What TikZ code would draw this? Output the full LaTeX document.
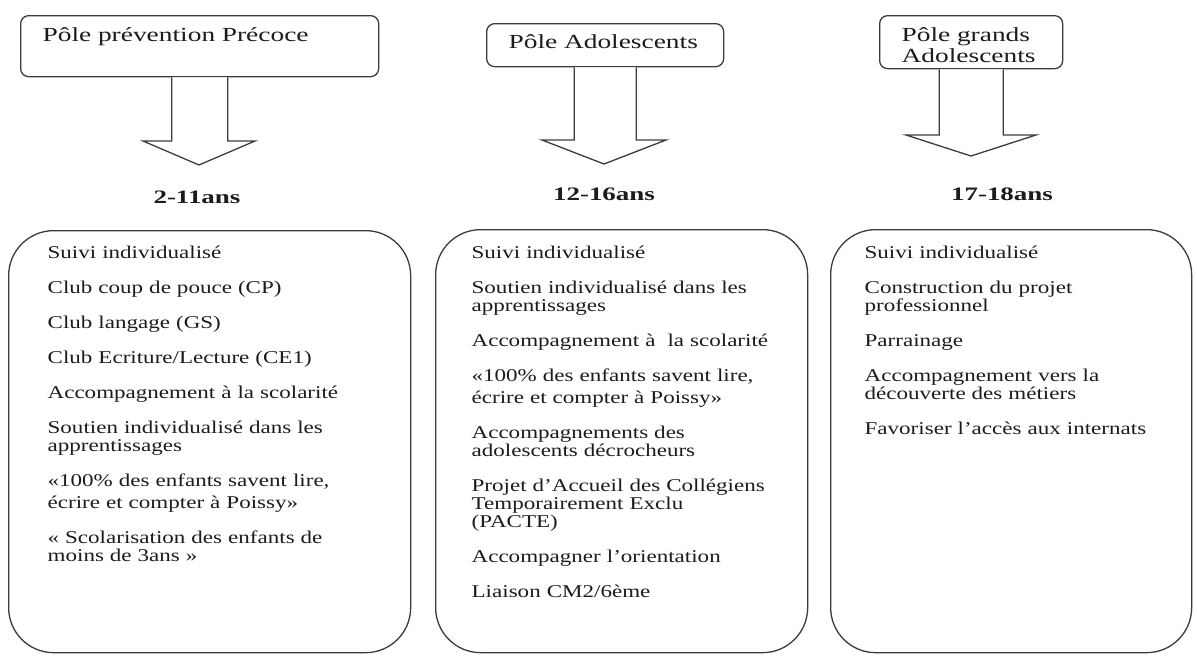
\documentclass[tikz,border=0pt]{standalone}
\usepackage{fontspec}
\setmainfont{Liberation Serif}
\newfontfamily\polefont[FakeStretch=1.37]{Liberation Serif}
\newfontfamily\itemfont[FakeStretch=1.28]{Liberation Serif}
\newfontfamily\agefont[FakeStretch=1.42]{Liberation Serif}
\usetikzlibrary{calc}
\usetikzlibrary{positioning}
\definecolor{trait}{RGB}{60,60,60}
\definecolor{encre}{RGB}{28,28,28}

\begin{document}
\begin{tikzpicture}
[x=1pt,y=-1pt,line width=1.3pt,color=trait,text=encre,
pole/.style={draw,rounded corners=8pt,anchor=north west,inner xsep=22pt,inner ysep=0pt,align=left,font=\polefont\fontsize{20}{21}\selectfont},
age/.style={anchor=base,inner sep=0pt,font=\agefont\bfseries\fontsize{19}{20}\selectfont},
panel/.style={draw,rounded corners=45pt,anchor=north west,inner sep=0pt},
liste/.style={anchor=base west,inner sep=0pt,text width=340pt,align=left,font=\itemfont\fontsize{18}{18}\selectfont},
fatarrow/.style={line join=miter,fill=white}]

\useasboundingbox[fill=white] (0,0) rectangle (1197,659);

% les trois poles
\node[pole,text width=314pt,text height=26pt,text depth=35pt] (p1) at (20,15) {Pôle prévention Précoce};
\node[pole,text width=193pt,text height=25pt,text depth=18pt] (p2) at (486,23) {\mbox{Pôle Adolescents}};
\node[pole,text width=139pt,text height=26pt,text depth=27pt] (p3) at (879,15) {\mbox{Pôle grands}\\\mbox{Adolescents}};

\node[age] (a1) at (197,203) {2-11ans};
\node[age] (a2) at (604,200) {12-16ans};
\node[age] (a3) at (1002,200) {17-18ans};

\coordinate (t1) at (199,165);
\coordinate (t2) at (604,164);
\coordinate (t3) at (971,156);

\draw[fatarrow] ($(p1.south)+(-28,0)$) |- ($(t1)+(-56,-24)$) -- (t1) -- ($(t1)+(56,-24)$) -| ($(p1.south)+(28,0)$);
\draw[fatarrow] ($(p2.south)+(-31,0)$) |- ($(t2)+(-62,-24)$) -- (t2) -- ($(t2)+(62,-24)$) -| ($(p2.south)+(31,0)$);
\draw[fatarrow] ($(p3.south)+(-32,0)$) |- ($(t3)+(-65,-21)$) -- (t3) -- ($(t3)+(65,-21)$) -| ($(p3.south)+(32,0)$);

% les actions
\node[panel,minimum width=402pt,minimum height=422pt] (b1) at (8,230) {};
\node[panel,minimum width=372pt,minimum height=423pt] (b2) at (435,229) {};
\node[panel,minimum width=361pt,minimum height=423pt] (b3) at (830,229) {};

\node[liste] (l1) at ($(b1.north west)+(39,28)$) {Suivi individualisé\\[17pt]
Club coup de pouce (CP)\\[17pt]
Club langage (GS)\\[17pt]
Club Ecriture/Lecture (CE1)\\[17pt]
Accompagnement à la scolarité\\[17pt]
Soutien individualisé dans les\\apprentissages\\[17pt]
«100\% des enfants savent lire,\\[4pt]écrire et compter à Poissy»\\[17pt]
« Scolarisation des enfants de\\moins de 3ans »};

\node[liste] (l2) at ($(b2.north west)+(36,29)$) {Suivi individualisé\\[17pt]
Soutien individualisé dans les\\apprentissages\\[17pt]
Accompagnement à\ \ la scolarité\\[17pt]
«100\% des enfants savent lire,\\[4pt]écrire et compter à Poissy»\\[17pt]
Accompagnements des\\adolescents décrocheurs\\[17pt]
Projet d’Accueil des Collégiens\\Temporairement Exclu\\(PACTE)\\[17pt]
Accompagner l’orientation\\[17pt]
Liaison CM2/6ème};

\node[liste] (l3) at ($(b3.north west)+(34,29)$) {Suivi individualisé\\[17pt]
Construction du projet\\professionnel\\[17pt]
Parrainage\\[17pt]
Accompagnement vers la\\découverte des métiers\\[17pt]
Favoriser l’accès aux internats};

\end{tikzpicture}
\end{document}
